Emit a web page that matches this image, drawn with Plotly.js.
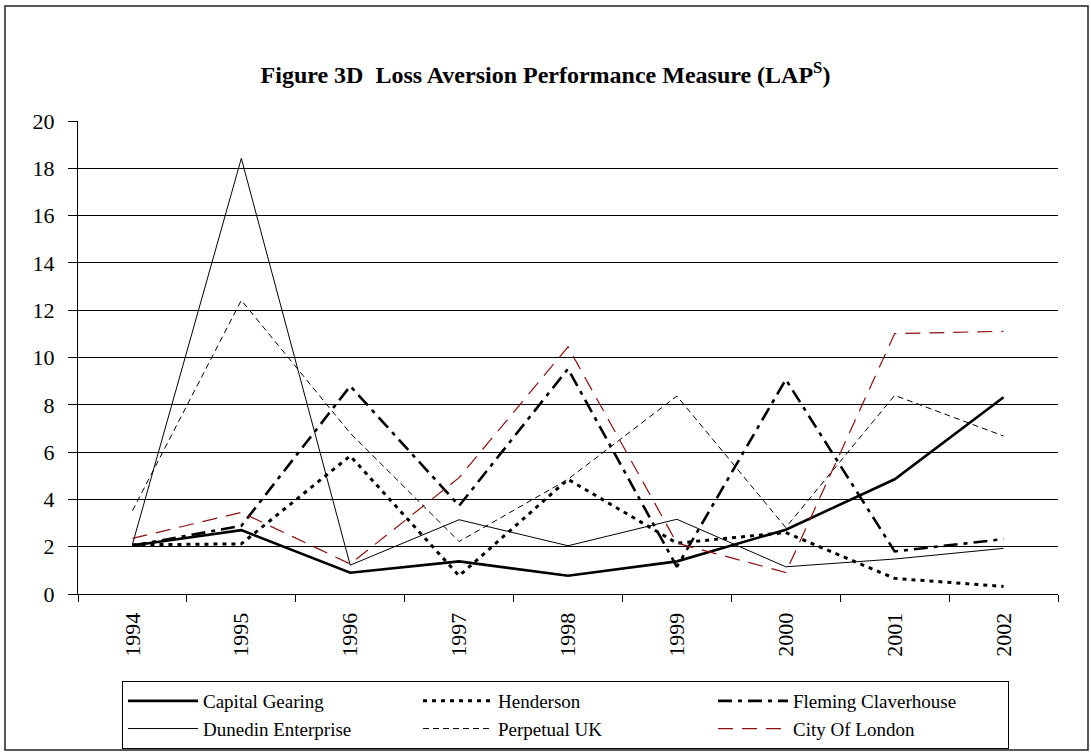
<!DOCTYPE html>
<html>
<head>
<meta charset="utf-8">
<script src="https://cdn.plot.ly/plotly-3.0.1.min.js"></script>
<style>
  html, body { margin: 0; padding: 0; background: #fff; }
  #chart { width: 1091px; height: 756px; }
</style>
</head>
<body>
<div id="chart"></div>
<script>
// ---- Data ----
const years = ["1994", "1995", "1996", "1997", "1998", "1999", "2000", "2001", "2002"];

const capitalGearing    = [2.05, 2.70, 0.90, 1.38, 0.77, 1.38, 2.72, 4.85, 8.32];
const henderson         = [2.08, 2.12, 5.84, 0.77, 4.85, 2.15, 2.60, 0.66, 0.32];
const flemingClaverhouse= [2.05, 2.88, 8.79, 3.73, 9.52, 1.15, 9.07, 1.80, 2.32];
const dunedinEnterprise = [2.10, 18.42, 1.22, 3.14, 2.04, 3.16, 1.15, 1.48, 1.93];
const perpetualUK       = [3.52, 12.42, 6.80, 2.22, 4.85, 8.37, 2.81, 8.40, 6.68];
const cityOfLondon      = [2.35, 3.45, 1.27, 4.92, 10.45, 2.15, 0.91, 11.01, 11.11];

const seriesNames = ["Capital Gearing", "Henderson", "Fleming Claverhouse",
                     "Dunedin Enterprise", "Perpetual UK", "City Of London"];

const yTickVals = [0, 2, 4, 6, 8, 10, 12, 14, 16, 18, 20];

// ---- Styles ----
const styles = [
  { color: "#000000", width: 2.6, dash: "solid" },
  { color: "#000000", width: 3,   dash: "4px,5px" },
  { color: "#000000", width: 2.6, dash: "14px,6px,4px,6px" },
  { color: "#000000", width: 1,   dash: "solid" },
  { color: "#000000", width: 1,   dash: "6px,4px" },
  { color: "#8B1010", width: 1.2, dash: "15px,9px" }
];

const allSeries = [capitalGearing, henderson, flemingClaverhouse,
                   dunedinEnterprise, perpetualUK, cityOfLondon];

const traces = allSeries.map((vals, i) => ({
  type: "scatter",
  mode: "lines",
  x: years,
  y: vals,
  name: seriesNames[i],
  line: { color: styles[i].color, width: styles[i].width, dash: styles[i].dash },
  hoverinfo: "skip"
}));

const serif = "Liberation Serif, Times New Roman, serif";

const layout = {
  width: 1091,
  height: 756,
  margin: { l: 78, r: 33, t: 121, b: 162 },
  paper_bgcolor: "#ffffff",
  plot_bgcolor: "#ffffff",
  font: { family: serif, size: 20, color: "#000" },
  title: {
    text: "<b>Figure 3D  Loss Aversion Performance Measure (LAP<sup>S</sup>)</b>",
    font: { family: serif, size: 24, color: "#000" },
    xref: "container", x: 0.5, xanchor: "center",
    yref: "container", y: 1 - 75 / 756, yanchor: "middle"
  },
  xaxis: {
    type: "category",
    categoryorder: "array",
    categoryarray: years,
    range: [-0.5, 8.5],
    showgrid: false,
    zeroline: false,
    showline: true,
    linecolor: "#000",
    linewidth: 1,
    ticks: "outside",
    tickson: "boundaries",
    ticklen: 7,
    tickcolor: "#000",
    tickwidth: 1,
    tickangle: -90,
    ticklabelstandoff: 9,
    tickfont: { family: serif, size: 22, color: "#000" },
    automargin: false,
    fixedrange: true
  },
  yaxis: {
    range: [0, 20],
    tickvals: yTickVals,
    ticktext: yTickVals.map(String),
    showgrid: true,
    gridcolor: "#000",
    gridwidth: 1,
    zeroline: false,
    showline: true,
    linecolor: "#000",
    linewidth: 1,
    ticks: "outside",
    ticklen: 9,
    tickcolor: "#000",
    tickwidth: 1,
    ticklabelstandoff: 9,
    tickfont: { family: serif, size: 22, color: "#000" },
    automargin: false,
    fixedrange: true
  },
  showlegend: true,
  legend: {
    orientation: "h",
    xref: "container",
    x: 122 / 1091,
    xanchor: "left",
    yref: "container",
    y: 1 - 681 / 756,
    yanchor: "top",
    bordercolor: "#000",
    borderwidth: 1,
    bgcolor: "#fff",
    font: { family: serif, size: 19, color: "#000" },
    itemwidth: 70,
    entrywidth: 210,
    entrywidthmode: "pixels",
    traceorder: "normal"
  },
  shapes: [{
    type: "rect",
    xref: "paper", yref: "paper",
    x0: (5 - 78) / 980, x1: (1088 - 78) / 980,
    y0: (594 - 750) / 473, y1: (594 - 6) / 473,
    line: { color: "#222", width: 1.5 },
    fillcolor: "rgba(0,0,0,0)",
    layer: "below"
  }],
  hovermode: false
};

Plotly.newPlot("chart", traces, layout, { staticPlot: true, displayModeBar: false });
</script>
</body>
</html>
